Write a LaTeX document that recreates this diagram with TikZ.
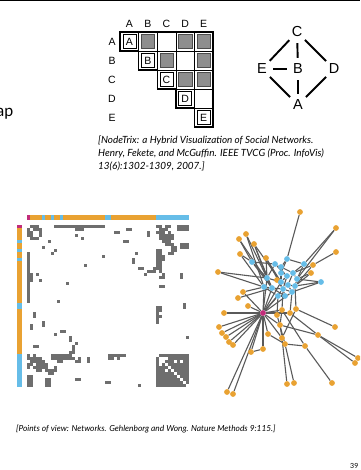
\documentclass[tikz,border=0pt]{standalone}
\usepackage{fontspec}
\setmainfont{Liberation Sans}
\newfontfamily\citefont{Lato}
\usetikzlibrary{backgrounds}
\definecolor{orc}{HTML}{E9A232}
\definecolor{blc}{HTML}{66BDE8}
\definecolor{magc}{HTML}{C22C7A}
\definecolor{cellc}{HTML}{6E6E6E}
\definecolor{linec}{HTML}{5A5A5A}
\definecolor{ntgray}{HTML}{8E8E8E}
\begin{document}
\begin{tikzpicture}[x=1pt,y=-1pt,
  lbl/.style={font=\fontsize{10.5}{12}\selectfont, inner sep=0},
  gl/.style={circle, minimum size=21pt, inner sep=0, font=\fontsize{14.5}{16}\selectfont},
  gedge/.style={line width=1.9pt, shorten <=0.5pt, shorten >=0.5pt},
  citeline/.style={font=\citefont\itshape\fontsize{9.9}{11}\selectfont, anchor=base west, inner sep=0},
  citelinetwo/.style={font=\citefont\itshape\fontsize{8.35}{10}\selectfont, anchor=base west, inner sep=0},
  onode/.style={circle, fill=orc, inner sep=0, minimum size=5.8pt},
  bnode/.style={circle, fill=blc, inner sep=0, minimum size=5.8pt},
  mnode/.style={circle, fill=magc, inner sep=0, minimum size=5.8pt},
  nedge/.style={draw=linec, line width=1.1pt}]
\clip (0,0) rectangle (360,470);
\fill[black] (0,0) rectangle (360,1.3);

% cropped word
\node[anchor=base east, inner sep=0, font=\citefont\fontsize{16}{18}\selectfont] (ap) at (13.5,117) {ap};

% ---------- NodeTrix matrix ----------
\foreach \L [count=\k from 0] in {A,B,C,D,E} {
  \node[lbl] (h\L) at ({129.3+18.6*\k},24) {\L};
  \node[lbl] (r\L) at (112,{41.5+19*\k}) {\L};
}
\foreach \j in {0,...,4} {
  \foreach \i in {\j,...,4} {
    \draw[line width=0.5pt] ({120+18.6*\i},{32+19*\j}) rectangle ++(18.6,19);
  }
}
\foreach \i/\j in {1/0,3/0,4/0,2/1,4/1,3/2,4/2} {
  \fill[ntgray] ({120+18.6*\i+2.6},{32+19*\j+2.6}) rectangle ++(13.4,13.8);
  \draw[line width=0.4pt,black!70] ({120+18.6*\i+2.6},{32+19*\j+2.6}) rectangle ++(13.4,13.8);
}
\foreach \L [count=\k from 0] in {A,B,C,D,E} {
  \node[lbl, draw, line width=0.5pt, minimum width=13pt, minimum height=13.5pt] (d\L) at ({129.3+18.6*\k},{41.5+19*\k}) {\L};
}
\draw[line width=1.4pt] (120,32) -- (213,32) -- (213,127) -- (194.4,127) -- (194.4,108)
  -- (175.8,108) -- (175.8,89) -- (157.2,89) -- (157.2,70) -- (138.6,70) -- (138.6,51)
  -- (120,51) -- cycle;

% ---------- node-link graph ----------
\node[gl] (gC) at (297,32) {C};
\node[gl] (gB) at (298,69) {B};
\node[gl] (gE) at (262,69) {E};
\node[gl] (gD) at (334,69) {D};
\node[gl] (gA) at (298,105) {A};
\draw[gedge] (gC) -- (gE);
\draw[gedge] (gC) -- (gD);
\draw[gedge] (gC) -- (gB);
\draw[gedge] (gE) -- (gB);
\draw[gedge] (gE) -- (gA);
\draw[gedge] (gD) -- (gA);
\draw[gedge] (gB) -- (gA);

% ---------- citation 1 ----------
\node[citeline] (c1a) at (98,144) {[NodeTrix: a Hybrid Visualization of Social Networks.};
\node[citeline] (c1b) at (98,157) {Henry, Fekete, and McGuffin. IEEE TVCG (Proc. InfoVis)};
\node[citeline] (c1c) at (98,170) {13(6):1302-1309, 2007.]};

% ---------- adjacency matrix ----------
\foreach \a/\b/\c in {0/1/magc,1/5/orc,5/6/blc,6/8/orc,8/9/blc,9/11/orc,11/12/blc,12/26/orc,26/28/blc,28/43/orc,43/54/blc} {
  \fill[\c] ({27+3*\a},214.5) rectangle ({27+3*\b},219.5);
  \fill[\c] (17,{225+3*\a}) rectangle (22,{225+3*\b});
}
\fill[cellc] (156,354) rectangle (189,387);
\foreach \k in {43,...,53} { \fill[white] ({27+3*\k+0.4},{225+3*\k+0.4}) rectangle ++(2.2,2.2); }
\foreach \i/\j in {45/44,44/45,46/44,44/46,49/45,51/45,46/48} { \fill[white] ({27+3*\i+0.4},{225+3*\j+0.4}) rectangle ++(2.2,2.2); }
\foreach \r/\cs in {
  0/{1,2,3,9,10,11,12,13,14,15,16,17,18,19,20,21,22,23,24,25,43,44,46,47,50,51,52,53},
  1/{2,3,4,16,17,18,33,34,44,45,46,50,51,52,53},
  2/{4,29,30,40,43,44,45,47},
  3/{4,16,40,44,45,46,47,48},
  4/{18,44,45,46,47,48},
  5/{7,32,33,45,46,47},
  6/{46,47,48,51,52,53},
  7/{48,49,51,52,53},
  8/{9,43,44,48,49},
  9/{36,43,44,47,48},
  10/{25,43,44,45},
  11/{35,43,44,45},
  12/{35,43,44},
  13/{19,43,44},
  14/{37,38,42,43,44},
  15/{40,41,42,44},
  16/{39,45,51},
  17/{44,45,51},
  20/{44,45},
  26/{52},
  27/{43,44,52},
  28/{43,44},
  29/{43},
  30/{43,44},
  31/{43},
  32/{43},
  37/{53}} {
  \foreach \c in \cs {
    \fill[cellc] ({27+3*\c},{225+3*\r}) rectangle ++(3,3);
    \fill[cellc] ({27+3*\r},{225+3*\c}) rectangle ++(3,3);
  }
}

% ---------- network ----------
\foreach \n/\x/\y in {o1/300/212,o2/336/228,o3/246/234,o4/239/239,o5/254/244,o6/240/254,o7/266/258,
  o8/336/252,o9/313/265,o10/218/272,o11/311/273,o12/277/280,o13/243/292,o14/238/298,o15/248/306,
  o16/224/313,o17/282/310,o18/277/315,o19/290/313,o20/296/309,o21/280/325,o22/335/327,o23/219/327,
  o24/222/333,o25/268/334,o26/318/335,o27/226/337,o28/229/342,o29/233/345,o30/282/338,o31/285/344,
  o32/305/346,o33/263/349,o34/251/352,o35/358/358,o36/355/363,o37/332/383,o38/287/384,o39/294/383,
  o40/227/392,o41/233/394} {
  \node[onode] (\n) at (\x,\y) {};
}
\foreach \n/\x/\y in {b1/252/262,b2/287/259,b3/275/264,b4/281/267,b5/281/273,b6/304/264,b7/293/273,
  b8/287/276,b9/297/279,b10/267/278,b11/281/282,b12/288/285,b13/295/286,b14/264/287,b15/272/288,
  b16/283/289,b17/292/292,b18/278/296,b19/285/296,b20/321/282} {
  \node[bnode] (\n) at (\x,\y) {};
}
\node[mnode] (m) at (263,313) {};
\begin{pgfonlayer}{background}
\foreach \a/\b in {o1/b2,o2/b6,o2/b9,o8/o9,o9/b7,o9/b13,o3/b14,o3/b10,o4/b1,o4/b15,o5/b10,o5/b15,o5/b11,
  o6/b1,o6/b14,o7/b10,o7/b11,o7/b16,o10/b14,o10/b10,o11/b9,o11/b13,o12/b16,o12/b11,o13/b14,o14/b15,o13/m,
  o15/m,o16/m,b20/b13,b20/b9,b20/b17,
  m/o23,m/o24,m/o27,m/o28,m/o29,m/o34,m/o40,m/o41,m/o33,m/o25,m/b14,m/b15,m/b18,m/b16,m/b17,m/b11,m/b10,
  m/o21,m/o30,m/o17,m/o19,o17/b16,o18/b18,o19/b17,o20/b13,o20/o22,o19/o26,o26/o35,o26/o36,o30/o38,o31/o39,
  o32/o37,o25/o31,o31/o32,o34/o33,o21/o30,o17/o21,o17/o32,o20/o30,o18/o31,o21/o26,
  b1/b3,b3/b4,b4/b5,b5/b8,b2/b4,b2/b6,b6/b7,b7/b9,b8/b11,b10/b11,b11/b12,b12/b13,b14/b15,b15/b16,
  b16/b17,b16/b19,b18/b19,b10/b15,b5/b11,b3/b10,b7/b12,b9/b13,b13/b17,b12/b16,b4/b7,b1/b10,b1/b15,b3/b8,
  b6/b9,b2/b5,b14/b18,b15/b19,b12/b17,b8/b16} {
  \draw[nedge] (\a) -- (\b);
}
\end{pgfonlayer}

% ---------- citation 2 and page number ----------
\node[citelinetwo] (c2) at (16,431) {[Points of view: Networks. Gehlenborg and Wong. Nature Methods 9:115.]};
\node[anchor=base west, inner sep=0, font=\citefont\fontsize{7}{8}\selectfont] (pg) at (350,468) {39};
\end{tikzpicture}
\end{document}
